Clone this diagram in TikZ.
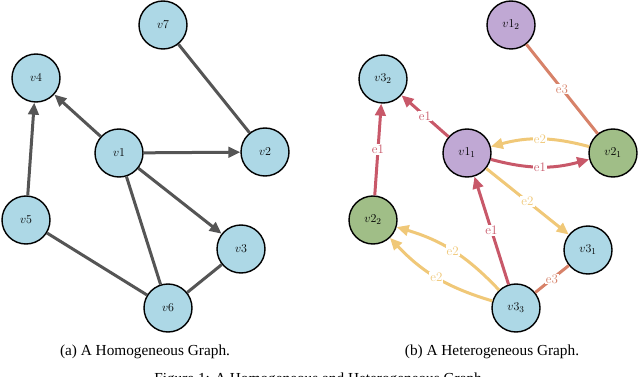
\documentclass[tikz,border=0pt]{standalone}
\usepackage{fontspec}
\newfontfamily\capfont{Liberation Serif}
\usetikzlibrary{arrows.meta}
\definecolor{nblue}{RGB}{173,216,230}
\definecolor{npurple}{RGB}{192,168,212}
\definecolor{ngreen}{RGB}{160,190,135}
\definecolor{egray}{RGB}{85,85,85}
\definecolor{ered}{RGB}{200,88,105}
\definecolor{eyellow}{RGB}{240,200,120}
\definecolor{esalmon}{RGB}{215,130,105}
\begin{document}
\begin{tikzpicture}[x=1pt,y=-1pt,
  vtx/.style={circle,draw=black,line width=1.4pt,minimum size=48pt,inner sep=0pt,
    font=\fontsize{12.5}{14}\selectfont},
  vb/.style={vtx,fill=nblue},
  vp/.style={vtx,fill=npurple},
  vg/.style={vtx,fill=ngreen},
  tip/.style={-{Triangle[length=12pt,width=10.5pt]}},
  gedge/.style={draw=egray,line width=3pt},
  garrow/.style={gedge,tip},
  redge/.style={draw=ered,line width=3pt,tip},
  yedge/.style={draw=eyellow,line width=3pt,tip},
  sedge/.style={draw=esalmon,line width=3pt},
  elab/.style={fill=white,inner sep=1pt,font=\fontsize{13}{13}\selectfont},
  captxt/.style={font=\capfont\fontsize{15.3}{18}\selectfont,anchor=base}]
\useasboundingbox (0,0) rectangle (640,377);
% left graph
\node[vb] (v7) at (163,25) {$v7$};
\node[vb] (v4) at (36,78) {$v4$};
\node[vb] (v1) at (119,153) {$v1$};
\node[vb] (v2) at (265,152) {$v2$};
\node[vb] (v5) at (26,220) {$v5$};
\node[vb] (v3) at (241,249) {$v3$};
\node[vb] (v6) at (168,308) {$v6$};
\draw[garrow] (v1) -- (v4);
\draw[garrow] (v1) -- (v2);
\draw[garrow] (v1) -- (v3);
\draw[garrow] (v5) -- (v4);
\draw[gedge] (v7) -- (v2);
\draw[gedge] (v1) -- (v6);
\draw[gedge] (v5) -- (v6);
\draw[gedge] (v3) -- (v6);
% right graph
\node[vp] (a12) at (511,25) {$v1_2$};
\node[vb] (c32) at (383,79) {$v3_2$};
\node[vp] (a11) at (467,153) {$v1_1$};
\node[vg] (b21) at (613,153) {$v2_1$};
\node[vg] (b22) at (373,220) {$v2_2$};
\node[vb] (c31) at (588,250) {$v3_1$};
\node[vb] (c33) at (516,308) {$v3_3$};
\draw[redge] (a11) -- node[elab,text=ered] {e1} (c32);
\draw[redge] (b22) -- node[elab,text=ered] {e1} (c32);
\draw[sedge] (a12) -- node[elab,text=esalmon] {e3} (b21);
\draw[yedge] (b21) to[bend right=15] node[elab,text=eyellow] {e2} (a11);
\draw[redge] (a11) to[bend right=15] node[elab,text=ered] {e1} (b21);
\draw[yedge] (a11) -- node[elab,text=eyellow] {e2} (c31);
\draw[redge] (c33) -- node[elab,text=ered] {e1} (a11);
\draw[yedge] (c33) to[bend right=15] node[elab,text=eyellow] {e2} (b22);
\draw[yedge] (c33) to[bend left=15] node[elab,text=eyellow] {e2} (b22);
\draw[sedge] (c33) -- node[elab,text=esalmon] {e3} (c31);
% captions
\node[captxt] (capa) at (145,355) {(a) A Homogeneous Graph.};
\node[captxt] (capb) at (492,355) {(b) A Heterogeneous Graph.};
\node[captxt] (capf) at (320,383.5) {Figure 1: A Homogeneous and Heterogeneous Graph.};
\end{tikzpicture}
\end{document}
